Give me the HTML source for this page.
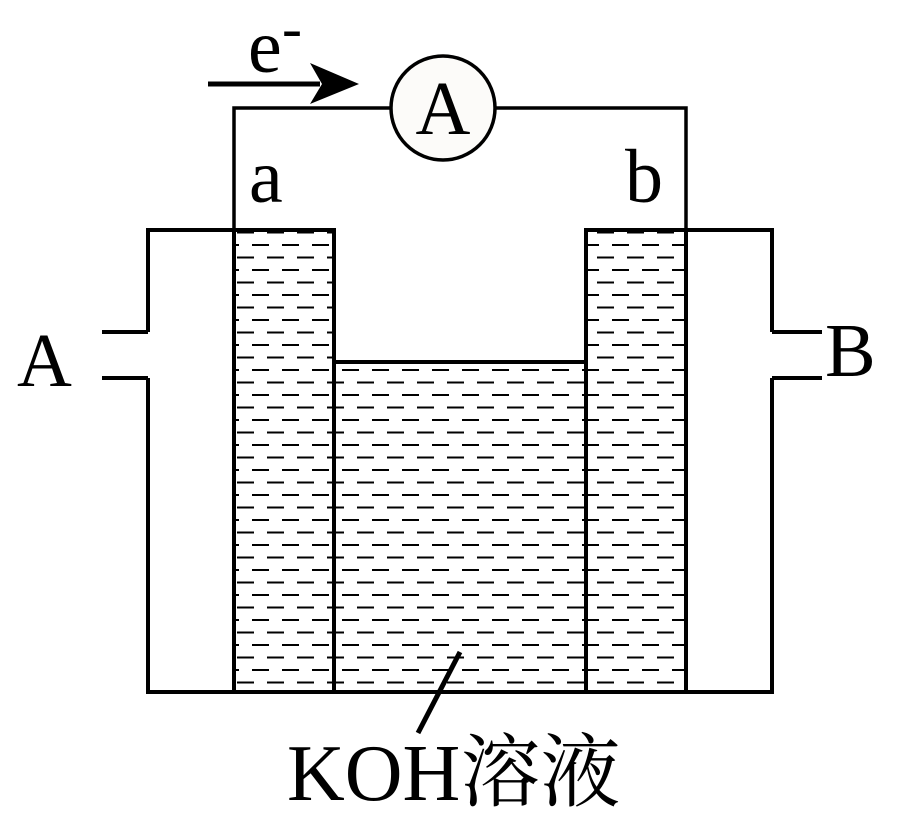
<!DOCTYPE html>
<html><head><meta charset="utf-8"><style>
html,body{margin:0;padding:0;background:#fff;}
svg{display:block;}
.t{font-family:"Liberation Serif","DejaVu Serif","Noto Serif CJK SC",serif;}
</style></head><body>
<svg width="915" height="828" viewBox="0 0 915 828" xmlns="http://www.w3.org/2000/svg">
<defs>
<pattern id="d" patternUnits="userSpaceOnUse" x="252" y="244" width="30" height="25">
<line x1="0" y1="1" x2="17" y2="1" stroke="#000" stroke-width="2"/>
<line x1="15" y1="13.5" x2="30" y2="13.5" stroke="#000" stroke-width="2"/>
<line x1="0" y1="13.5" x2="2" y2="13.5" stroke="#000" stroke-width="2"/>
</pattern>
</defs>
<rect x="236" y="232" width="96" height="458" fill="url(#d)"/>
<rect x="336" y="364" width="248" height="326" fill="url(#d)"/>
<rect x="588" y="232" width="96" height="458" fill="url(#d)"/>
<g stroke="#000" stroke-width="4" fill="none">
<path d="M148 332 V230 H234 M148 378 V692 H772 V378 M772 332 V230 H686"/>
<path d="M102 332 H148 M102 378 H148 M772 332 H822 M772 378 H822"/>
<path d="M234 692 V230 H334 V692 M334 362 H586 M586 692 V230 H686 V692"/>
<path d="M234 230 V108 H391 M495 108 H686 V230" stroke-width="3.5"/>
<line x1="208" y1="84" x2="320" y2="84" stroke-width="5"/>
<line x1="460" y1="652" x2="418" y2="733" stroke-width="5"/>
</g>
<polygon points="310,63 359,84 310,104 322,84" fill="#000"/>
<circle cx="443" cy="108" r="52" fill="#fcfbf9" stroke="#000" stroke-width="3.5"/>
<g class="t" fill="#000">
<text x="443" y="134" font-size="76" text-anchor="middle">A</text>
<text x="248" y="72" font-size="76">e</text>
<text x="282" y="48" font-size="60">-</text>
<text x="249" y="202" font-size="76">a</text>
<text x="625" y="202" font-size="76">b</text>
<text x="17" y="386" font-size="76">A</text>
<text x="825" y="376" font-size="76">B</text>
<text x="287" y="800" font-size="80">KOH溶液</text>
</g>
</svg>
</body></html>
